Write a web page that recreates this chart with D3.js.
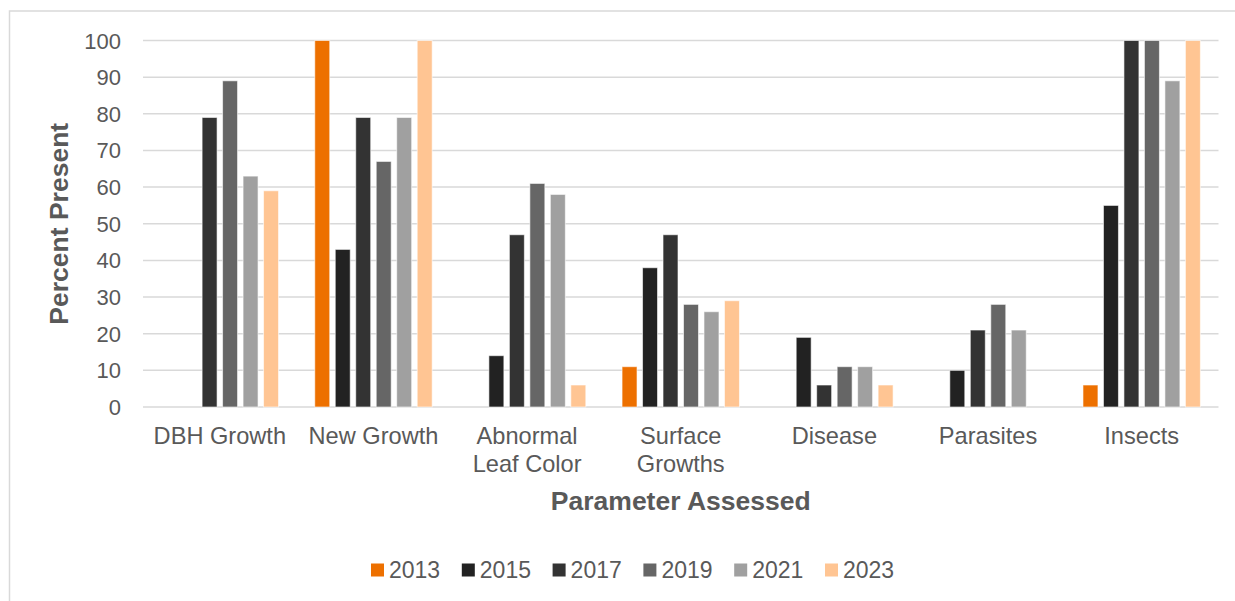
<!DOCTYPE html>
<html lang="en">
<head>
    <meta charset="utf-8">
    <title>Percent Present by Parameter</title>
    <script src="https://d3js.org/d3.v7.min.js"></script>
    <style>
        body {
            margin: 0;
            background: #ffffff;
            font-family: "Liberation Sans", Arial, sans-serif;
        }
        .frame {
            fill: none;
            stroke: #d9d9d9;
            stroke-width: 1.5px;
        }
        .grid line {
            stroke: #d9d9d9;
            stroke-width: 1.5px;
        }
        .tick-label, .cat-label, .legend-label {
            fill: #595959;
        }
        .axis-title {
            fill: #595959;
            font-weight: bold;
            font-size: 26.5px;
        }
    </style>
</head>
<body>
    <svg id="chart" width="1235" height="601"></svg>

    <script>
        // Data
        const categories = [["DBH Growth"], ["New Growth"], ["Abnormal", "Leaf Color"], ["Surface", "Growths"], ["Disease"], ["Parasites"], ["Insects"]];
        const years = ["2013", "2015", "2017", "2019", "2021", "2023"];
        const colors = ["#ed7000", "#222222", "#333333", "#666666", "#a0a0a0", "#ffc593"];
        const values2013 = [0, 100, 0, 11, 0, 0, 6];
        const values2015 = [0, 43, 14, 38, 19, 10, 55];
        const values2017 = [79, 79, 47, 47, 6, 21, 100];
        const values2019 = [89, 67, 61, 28, 11, 28, 100];
        const values2021 = [63, 79, 58, 26, 11, 21, 89];
        const values2023 = [59, 100, 6, 29, 6, 0, 100];
        const yTicks = [0, 10, 20, 30, 40, 50, 60, 70, 80, 90, 100];

        const series = [values2013, values2015, values2017, values2019, values2021, values2023];

        const svg = d3.select("#chart");
        const plot = { left: 143, right: 1218.5, top: 40.5, bottom: 407 };

        // chart area frame (left and top edges visible)
        svg.append("path")
            .attr("class", "frame")
            .attr("d", "M9.5,601 L9.5,11 L1235,11");

        const catNames = categories.map(c => c.join(" "));

        const x0 = d3.scaleBand()
            .domain(catNames)
            .range([plot.left, plot.right]);

        const x1 = d3.scaleBand()
            .domain(years)
            .range([0, x0.bandwidth()])
            .paddingInner(0.22)
            .paddingOuter(0.86);

        const y = d3.scaleLinear()
            .domain([0, 100])
            .range([plot.bottom, plot.top]);

        // gridlines
        svg.append("g")
            .attr("class", "grid")
            .selectAll("line")
            .data(yTicks)
            .enter().append("line")
            .attr("x1", plot.left)
            .attr("x2", plot.right)
            .attr("y1", d => y(d))
            .attr("y2", d => y(d));

        // y tick labels
        svg.append("g")
            .selectAll("text")
            .data(yTicks)
            .enter().append("text")
            .attr("class", "tick-label")
            .attr("x", 121)
            .attr("y", d => y(d) + 8)
            .attr("text-anchor", "end")
            .style("font-size", "22px")
            .text(d => d);

        // bars
        const groups = svg.append("g")
            .selectAll("g")
            .data(catNames)
            .enter().append("g")
            .attr("transform", d => `translate(${x0(d)},0)`);

        groups.selectAll("rect")
            .data((d, i) => years.map((yr, j) => ({ year: yr, value: series[j][i], color: colors[j] })))
            .enter().filter(d => d.value > 0).append("rect")
            .attr("x", d => x1(d.year) + 0.5)
            .attr("y", d => y(d.value))
            .attr("width", x1.bandwidth() - 1)
            .attr("height", d => y(0) - y(d.value))
            .attr("fill", d => d.color)
            .attr("stroke", "#ffffff")
            .attr("stroke-opacity", 0.6)
            .attr("stroke-width", 1);

        // category labels
        const catLabels = svg.append("g")
            .selectAll("text")
            .data(categories)
            .enter().append("text")
            .attr("class", "cat-label")
            .attr("x", (d, i) => x0(catNames[i]) + x0.bandwidth() / 2)
            .attr("y", 444)
            .attr("text-anchor", "middle")
            .style("font-size", "23.6px");

        catLabels.selectAll("tspan")
            .data(d => d)
            .enter().append("tspan")
            .attr("x", function() { return d3.select(this.parentNode).attr("x"); })
            .attr("dy", (d, i) => i === 0 ? 0 : 28)
            .text(d => d);

        // axis titles
        svg.append("text")
            .attr("class", "axis-title")
            .attr("x", (plot.left + plot.right) / 2)
            .attr("y", 510)
            .attr("text-anchor", "middle")
            .text("Parameter Assessed");

        svg.append("text")
            .attr("class", "axis-title")
            .attr("transform", `translate(68, ${(plot.top + plot.bottom) / 2}) rotate(-90)`)
            .attr("text-anchor", "middle")
            .text("Percent Present");

        // legend
        const legendX = d3.scalePoint()
            .domain(years)
            .range([371, 825]);

        const legend = svg.append("g")
            .selectAll("g")
            .data(years)
            .enter().append("g")
            .attr("transform", d => `translate(${legendX(d)}, 563.5)`);

        legend.append("rect")
            .attr("width", 13)
            .attr("height", 13)
            .attr("fill", (d, i) => colors[i]);

        legend.append("text")
            .attr("class", "legend-label")
            .attr("x", 18)
            .attr("y", 14.5)
            .style("font-size", "23px")
            .text(d => d);
    </script>
</body>
</html>
